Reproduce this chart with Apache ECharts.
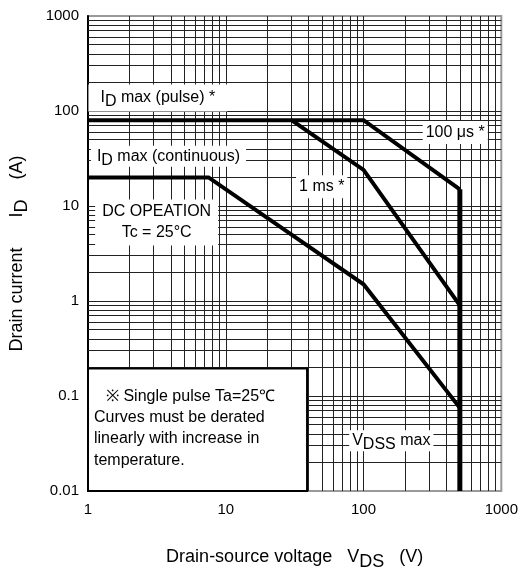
<!DOCTYPE html>
<html>
<head>
<meta charset="utf-8">
<script src="https://cdn.jsdelivr.net/npm/echarts@6/dist/echarts.min.js"></script>
<style>
html,body{margin:0;padding:0;background:#fff;}
#c{width:521px;height:576px;}
</style>
</head>
<body>
<div id="c"></div>
<script>
// ---- data ----
const xTickLabels = ['1', '10', '100', '1000'];
const yTickLabels = ['0.01', '0.1', '1', '10', '100', '1000'];
const xGrid = [2,3,4,5,6,7,8,9,10,20,30,40,50,60,70,80,90,100,200,300,400,500,600,700,800,900];
const yGrid = [0.02,0.03,0.04,0.05,0.06,0.07,0.08,0.09,0.1,0.2,0.3,0.4,0.5,0.6,0.7,0.8,0.9,1,2,3,4,5,6,7,8,9,10,20,30,40,50,60,70,80,90,100,200,300,400,500,600,700,800,900];
const pulse100us = [[1,80],[100,80],[500,15]];
const pulse1ms = [[30,80],[100,24],[500,0.9]];
const dcOperation = [[1,20],[7.5,20],[100,1.5],[500,0.075]];
const vdssMax = [[500,15],[500,0.01]];

const labels = [
  {coord:[3.21,137], text:'{n|I}{s|D}{n| max (pulse) *}', pad:[3,12,3,12]},
  {coord:[3.84,33.4], text:'{n|I}{s|D}{n| max (continuous)}', pad:[0,6,0,6]},
  {coord:[463,59.3], text:'{n|100 μs *}', pad:[1,3,1,3]},
  {coord:[49.7,15.9], text:'{n|1 ms *}', pad:[1,3,1,3]},
  {coord:[3.15,6.72], text:'{n|DC OPEATION}\n{n|Tc = 25°C}', pad:[2,7,2,7]},
  {coord:[159,0.0339], text:'{n|V}{s|DSS}{n| max}', pad:[0,3,0,3]}
];
const noteBox = [[1,0.01],[38.9,0.1945]];
const noteText = '{a|※ Single pulse Ta=25℃}\n{b|Curves must be derated}\n{b|linearly with increase in}\n{b|temperature.}';

const FONT = 'Liberation Sans, Arial, sans-serif';
const chart = echarts.init(document.getElementById('c'), null, {renderer:'canvas'});

function curve(name, data, w) {
  return {
    name, type:'line', data, z:4, showSymbol:false, symbol:'none', silent:true,
    lineStyle:{color:'#000', width:w, join:'miter'}, animation:false
  };
}

const option = {
  animation:false,
  textStyle:{fontFamily:FONT, color:'#000'},
  grid:{left:86, top:16, right:14, bottom:79, show:true, borderColor:'#999', borderWidth:2, backgroundColor:'rgba(0,0,0,0)'},
  xAxis:{
    type:'log', logBase:10, min:1, max:1000,
    axisLine:{show:false}, axisTick:{show:false}, splitLine:{show:false},
    axisLabel:{fontSize:15, color:'#000', margin:11, fontFamily:FONT,
      formatter:(v)=>{const i=Math.round(Math.log10(v)); return xTickLabels[i] ?? '';}},
    name:'{n|Drain-source voltage   V}{s|DS}{n|   (V)}',
    nameLocation:'middle', nameGap:52,
    nameTextStyle:{fontFamily:FONT, rich:{n:{fontSize:18, color:'#000', fontFamily:FONT}, s:{fontSize:18, color:'#000', fontFamily:FONT, padding:[10,0,0,0]}}}
  },
  yAxis:{
    type:'log', logBase:10, min:0.01, max:1000,
    axisLine:{show:true, onZero:false, lineStyle:{color:'#000', width:2}},
    axisTick:{show:false}, splitLine:{show:false},
    axisLabel:{fontSize:15, color:'#000', margin:9, fontFamily:FONT,
      formatter:(v)=>{const i=Math.round(Math.log10(v))+2; return yTickLabels[i] ?? '';}},
    name:'{n|Drain current      I}{s|D}{n|    (A)}',
    nameLocation:'middle', nameRotate:90, nameGap:57,
    nameTextStyle:{fontFamily:FONT, rich:{n:{fontSize:18, color:'#000', fontFamily:FONT}, s:{fontSize:18, color:'#000', fontFamily:FONT, padding:[10,0,0,0]}}}
  },
  series:[
    {
      name:'grid', type:'line', data:[[1,0.01]], symbol:'none', showSymbol:false, silent:true,
      lineStyle:{width:0}, z:1,
      markLine:{
        z:1, silent:true, symbol:['none','none'], animation:false,
        label:{show:false}, emphasis:{disabled:true},
        lineStyle:{color:'#222', width:1, type:'solid'},
        data: xGrid.map(v=>({xAxis:v})).concat(yGrid.map(v=>({yAxis:v})))
      },
      markArea:{
        z:2, silent:true, animation:false,
        itemStyle:{color:'#fff', borderColor:'#000', borderWidth:2},
        emphasis:{disabled:true},
        label:{show:true, position:'insideTopLeft', distance:0, padding:[18,0,0,7],
          formatter: noteText,
          rich:{
            a:{fontSize:16, lineHeight:21.3, color:'#000', fontFamily:FONT, padding:[0,0,0,12]},
            b:{fontSize:16, lineHeight:21.3, color:'#000', fontFamily:FONT}
          }},
        data:[[{xAxis:noteBox[0][0], yAxis:noteBox[0][1]},{xAxis:noteBox[1][0], yAxis:noteBox[1][1]}]]
      },
      markPoint:{
        z:3, silent:true, animation:false, symbol:'circle', symbolSize:1,
        itemStyle:{color:'rgba(0,0,0,0)'},
        emphasis:{disabled:true},
        data: labels.map(l=>({
          coord:l.coord, value:0,
          label:{show:true, position:'inside', formatter:l.text, backgroundColor:'#fff', padding:l.pad, align:'center',
            rich:{
              n:{fontSize:16, lineHeight:21, color:'#000', fontFamily:FONT, align:'center'},
              s:{fontSize:16, lineHeight:21, color:'#000', fontFamily:FONT, padding:[8,0,0,0]}
            }}
        }))
      }
    },
    curve('100us', pulse100us, 4),
    curve('1ms', pulse1ms, 4),
    curve('DC', dcOperation, 4),
    curve('VDSS', vdssMax, 5)
  ]
};
chart.setOption(option);
</script>
</body>
</html>
